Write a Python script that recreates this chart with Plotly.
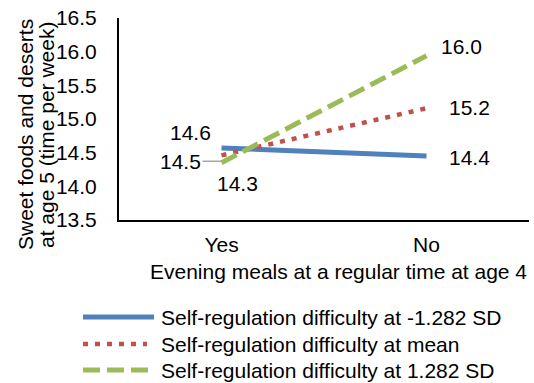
import plotly.graph_objects as go

categories = ["Yes", "No"]
low_sd = [14.57, 14.45]
mean_sd = [14.46, 15.16]
high_sd = [14.35, 15.94]
low_labels = ["14.6", "14.4"]
mean_labels = ["14.5", "15.2"]
high_labels = ["14.3", "16.0"]
series_names = [
    "Self-regulation difficulty at -1.282 SD",
    "Self-regulation difficulty at mean",
    "Self-regulation difficulty at 1.282 SD",
]
y_ticks = [13.5, 14.0, 14.5, 15.0, 15.5, 16.0, 16.5]
y_title_lines = ["Sweet foods and deserts", "at age 5 (time per week)"]
x_title = "Evening meals at a regular time at age 4"

BLUE = "#4F81BD"
RED = "#C0504D"
GREEN = "#9BBB59"
FONT = "Liberation Sans, Arial, sans-serif"
FS = 21

styles = [
    dict(color=BLUE, width=5, dash="solid"),
    dict(color=RED, width=4.5, dash="5px,7px"),
    dict(color=GREEN, width=5, dash="17px,7px"),
]

fig = go.Figure()
for name, vals, st in zip(series_names, [low_sd, mean_sd, high_sd], styles):
    fig.add_trace(go.Scatter(x=categories, y=vals, mode="lines", name=name,
                             line=st, showlegend=False))

ann = []
def lab(x, y, text, xs, ys):
    ann.append(dict(x=x, y=y, xref="x", yref="y", text=text, showarrow=False,
                    xshift=xs, yshift=ys, font=dict(size=FS, color="#000")))

lab("Yes", low_sd[0], low_labels[0], -31, 15)
lab("Yes", high_sd[0], high_labels[0], 16, -21)
lab("No", low_sd[1], low_labels[1], 43, -1)
lab("No", mean_sd[1], mean_labels[1], 43, 1)
lab("No", high_sd[1], high_labels[1], 35, 9)
ann.append(dict(x="Yes", y=mean_sd[0], xref="x", yref="y", text=mean_labels[0],
                showarrow=True, arrowhead=0, arrowwidth=1.5, arrowcolor="#A6A6A6",
                ax=-41, ay=0, yshift=-6, standoff=0,
                font=dict(size=FS, color="#000")))

# plot area in screen pixels: left 119, right 529, top 18, bottom 220
W, H = 410.0, 202.0
def px(x):
    return (x - 119) / W
def py(y):
    return (220 - y) / H

# y-axis title (two lines)
for line, xc in zip(y_title_lines, [25, 46]):
    ann.append(dict(x=px(xc), y=py(135), xref="paper", yref="paper", text=line,
                    textangle=-90, showarrow=False, xanchor="center", yanchor="middle",
                    font=dict(size=FS, color="#000")))

# x-axis title
ann.append(dict(x=px(338.5), y=py(271), xref="paper", yref="paper", text=x_title,
                showarrow=False, xanchor="center", yanchor="middle",
                font=dict(size=FS, color="#000")))

# manual legend
shapes = []
rows = [317, 344, 370]
line_ends = [154, 147, 148]
for name, st, yr, xe in zip(series_names, styles, rows, line_ends):
    shapes.append(dict(type="line", xref="paper", yref="paper",
                       x0=px(83), x1=px(xe), y0=py(yr), y1=py(yr),
                       line=st))
    ann.append(dict(x=px(159), y=py(yr), xref="paper", yref="paper", text=name,
                    showarrow=False, xanchor="left", yanchor="middle",
                    font=dict(size=FS, color="#000")))

fig.update_layout(
    width=534, height=383,
    margin=dict(l=119, r=5, t=18, b=163),
    paper_bgcolor="white", plot_bgcolor="white",
    font=dict(family=FONT, size=FS, color="#000"),
    annotations=ann, shapes=shapes,
    showlegend=False,
)
fig.update_xaxes(
    type="category", categoryorder="array", categoryarray=categories,
    range=[-0.5, 1.5],
    showline=True, linecolor="#000", linewidth=2, showgrid=False, zeroline=False,
    ticks="", ticklabelstandoff=5, tickfont=dict(size=FS),
)
fig.update_yaxes(
    range=[13.5, 16.5], tickvals=y_ticks, tickformat=".1f",
    showline=True, linecolor="#000", linewidth=2, showgrid=False, zeroline=False,
    ticks="", ticklabelstandoff=16, tickfont=dict(size=FS),
    ticklabeloverflow="allow",
)

# remove the default page margin so the figure sits at the window's top-left corner
fig.write_html(
    "out.html",
    config={"displayModeBar": False},
    post_script="document.body.style.margin='0';document.body.style.overflow='hidden';",
)
